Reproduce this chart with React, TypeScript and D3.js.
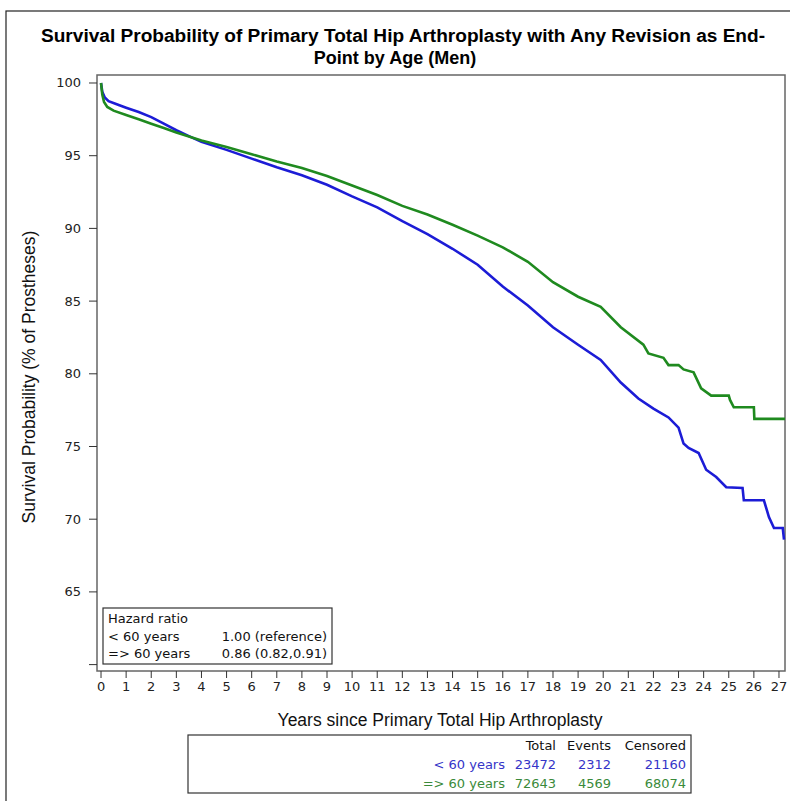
import React from "react";
import * as d3 from "d3";

const titleLine1 = "Survival Probability of Primary Total Hip Arthroplasty with Any Revision as End-";
const titleLine2 = "Point by Age (Men)";
const xAxisTitle = "Years since Primary Total Hip Arthroplasty";
const yAxisTitle = "Survival Probability (% of Prostheses)";

const yTicks = [60, 65, 70, 75, 80, 85, 90, 95, 100];
const yTickLabels = ["", "65", "70", "75", "80", "85", "90", "95", "100"];
const xTicks = [0, 1, 2, 3, 4, 5, 6, 7, 8, 9, 10, 11, 12, 13, 14, 15, 16, 17, 18, 19, 20, 21, 22, 23, 24, 25, 26, 27];

// < 60 years (blue)
const youngT = [0, 0.05, 0.15, 0.3, 0.6, 1, 1.5, 2, 2.5, 3, 3.5, 4, 5, 6, 7, 8, 9, 10, 11, 12, 13, 14, 15, 16, 17, 18, 19, 19.9, 20.7, 21.4, 22.0, 22.6, 23.0, 23.2, 23.4, 23.8, 24.1, 24.5, 24.9, 25.55, 25.6, 26.4, 26.6, 26.8, 27.15, 27.2];
const youngV = [100, 99.4, 99.0, 98.75, 98.55, 98.3, 98.0, 97.65, 97.2, 96.75, 96.35, 95.95, 95.4, 94.8, 94.2, 93.65, 93.0, 92.2, 91.45, 90.5, 89.6, 88.6, 87.5, 86.0, 84.7, 83.2, 82.0, 80.95, 79.4, 78.3, 77.6, 77.0, 76.3, 75.2, 74.9, 74.55, 73.4, 72.9, 72.2, 72.15, 71.3, 71.3, 70.15, 69.4, 69.4, 68.6];

// => 60 years (green)
const oldT = [0, 0.05, 0.12, 0.25, 0.5, 1, 1.5, 2, 2.5, 3, 4, 5, 6, 7, 8, 9, 10, 11, 12, 13, 14, 15, 16, 17, 18, 19, 19.9, 20.7, 21.6, 21.8, 22.4, 22.6, 23.0, 23.2, 23.6, 23.9, 24.3, 25.0, 25.05, 25.2, 26.0, 26.02, 27.24];
const oldV = [100, 99.2, 98.7, 98.35, 98.1, 97.8, 97.5, 97.2, 96.9, 96.6, 96.05, 95.6, 95.1, 94.6, 94.15, 93.6, 92.95, 92.3, 91.55, 90.95, 90.25, 89.5, 88.7, 87.7, 86.3, 85.3, 84.6, 83.2, 82.0, 81.4, 81.1, 80.6, 80.6, 80.3, 80.1, 79.0, 78.5, 78.5, 78.2, 77.7, 77.7, 76.9, 76.9];

const hazardRows = [
  ["Hazard ratio", ""],
  ["< 60 years", "1.00 (reference)"],
  ["=> 60 years", "0.86 (0.82,0.91)"],
];
const tableHeader = ["Total", "Events", "Censored"];
const groupNames = ["< 60 years", "=> 60 years"];
const totals = ["23472", "72643"];
const events = ["2312", "4569"];
const censored = ["21160", "68074"];
const groupColors = ["#1c1cd6", "#1f8a1f"];
const tableColors = ["#3535c8", "#3a8a3a"];

const W = 790;
const H = 801;
const plot = { left: 97, right: 785, top: 75, bottom: 671 };

export default function App() {
  const x = d3.scaleLinear().domain([-0.16, 27.24]).range([plot.left, plot.right]);
  const y = d3.scaleLinear().domain([59.56, 100.55]).range([plot.bottom, plot.top]);
  const line = d3
    .line<[number, number]>()
    .x((d) => x(d[0]))
    .y((d) => y(d[1]))
    .curve(d3.curveLinear);
  const youngPts = youngT.map((t, i) => [t, youngV[i]] as [number, number]);
  const oldPts = oldT.map((t, i) => [t, oldV[i]] as [number, number]);
  const series = [youngPts, oldPts];

  const sans = "'Liberation Sans', Arial, sans-serif";
  const tickFont = "'DejaVu Sans', Verdana, sans-serif";

  const colRight = [505, 556, 611, 686];
  const rowBase = [750, 769, 788];

  return (
    <svg width={W} height={H} style={{ position: "absolute", left: 0, top: 0, background: "#fff" }}>
      <rect x={0} y={0} width={W} height={H} fill="#fff" />
      <rect x={6} y={11} width={820} height={820} fill="none" stroke="#222" strokeWidth={1.2} />

      <text x={403} y={42} textAnchor="middle" fontFamily={sans} fontWeight="bold" fontSize={18} fill="#000" textLength={724} lengthAdjust="spacingAndGlyphs">
        {titleLine1}
      </text>
      <text x={395} y={64} textAnchor="middle" fontFamily={sans} fontWeight="bold" fontSize={18} fill="#000">
        {titleLine2}
      </text>

      {/* plot frame */}
      <rect x={plot.left} y={plot.top} width={plot.right - plot.left} height={plot.bottom - plot.top} fill="none" stroke="#666" strokeWidth={1.5} />

      {/* y axis ticks */}
      {yTicks.map((v, i) => (
        <g key={"y" + v}>
          <line x1={plot.left - 8} x2={plot.left} y1={y(v)} y2={y(v)} stroke="#333" strokeWidth={1} />
          <text x={plot.left - 16} y={y(v) + 4.5} textAnchor="end" fontFamily={tickFont} fontSize={13} fill="#222">
            {yTickLabels[i]}
          </text>
        </g>
      ))}
      {/* x axis ticks */}
      {xTicks.map((t) => (
        <g key={"x" + t}>
          <line x1={x(t)} x2={x(t)} y1={plot.bottom} y2={plot.bottom + 7} stroke="#333" strokeWidth={1} />
          <text x={x(t)} y={plot.bottom + 20} textAnchor="middle" fontFamily={tickFont} fontSize={13} fill="#222">
            {String(t)}
          </text>
        </g>
      ))}

      <text x={440} y={726} textAnchor="middle" fontFamily={sans} fontSize={17.5} fill="#111">
        {xAxisTitle}
      </text>
      <text transform={`translate(35,377) rotate(-90)`} textAnchor="middle" fontFamily={sans} fontSize={17.5} fill="#111">
        {yAxisTitle}
      </text>

      {/* curves */}
      {series.map((pts, i) => (
        <path key={"s" + i} d={line(pts) || ""} fill="none" stroke={groupColors[i]} strokeWidth={2.6} strokeLinejoin="miter" />
      ))}

      {/* hazard ratio box */}
      <rect x={103} y={608} width={229} height={56} fill="#fff" stroke="#333" strokeWidth={1.2} />
      {hazardRows.map((r, i) => (
        <g key={"h" + i}>
          <text x={108} y={623 + i * 17.5} fontFamily={tickFont} fontSize={13} fill="#111">
            {r[0]}
          </text>
          <text x={327} y={623 + i * 17.5} textAnchor="end" fontFamily={tickFont} fontSize={13} fill="#111">
            {r[1]}
          </text>
        </g>
      ))}

      {/* counts table */}
      <rect x={188} y={735} width={503} height={58} fill="#fff" stroke="#333" strokeWidth={1.2} />
      {tableHeader.map((h, i) => (
        <text key={"th" + i} x={colRight[i + 1]} y={rowBase[0]} textAnchor="end" fontFamily={tickFont} fontSize={13} fill="#111">
          {h}
        </text>
      ))}
      {groupNames.map((g, i) => (
        <g key={"tr" + i} fill={tableColors[i]} fontFamily={tickFont} fontSize={13}>
          <text x={colRight[0]} y={rowBase[i + 1]} textAnchor="end">{g}</text>
          <text x={colRight[1]} y={rowBase[i + 1]} textAnchor="end">{totals[i]}</text>
          <text x={colRight[2]} y={rowBase[i + 1]} textAnchor="end">{events[i]}</text>
          <text x={colRight[3]} y={rowBase[i + 1]} textAnchor="end">{censored[i]}</text>
        </g>
      ))}
    </svg>
  );
}
